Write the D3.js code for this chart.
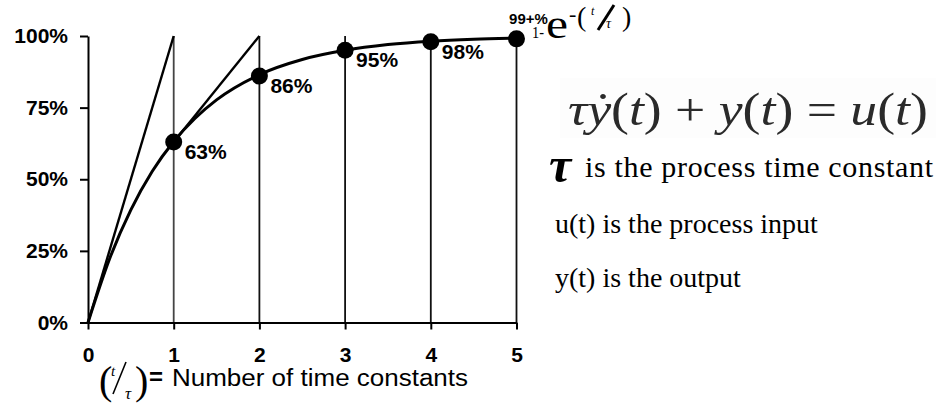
<!DOCTYPE html>
<html>
<head>
<meta charset="utf-8">
<script src="https://cdn.jsdelivr.net/npm/d3@7/dist/d3.min.js"></script>
<style>
  html, body { margin: 0; padding: 0; background: #fff; }
  svg { display: block; }
  .tick text { font-family: Arial, "Liberation Sans", sans-serif; font-weight: bold; font-size: 21px; fill: #000; }
  .serif { font-family: "Liberation Serif", "Times New Roman", serif; fill: #000; }
</style>
</head>
<body>
<svg id="chart" width="938" height="405"></svg>
<script>
// First-order step response: fraction of final value vs. number of time constants
const xTicks = [0, 1, 2, 3, 4, 5];
const yTicks = [0, 0.25, 0.5, 0.75, 1];

// response curve samples (t/τ, fraction reached)
const curveT = [0, 0.25, 0.5, 0.75, 1, 1.25, 1.5, 2, 2.5, 3, 3.5, 4, 4.5, 5];
const curveY = [0, 0.221, 0.393, 0.528, 0.632, 0.713, 0.777, 0.865, 0.918, 0.950, 0.970, 0.982, 0.989, 0.993];

// marked points at each whole time constant
const markT = [1, 2, 3, 4, 5];
const markY = [0.63, 0.86, 0.95, 0.98, 0.99];
const markLabels = ["63%", "86%", "95%", "98%", "99+%"];

// tangent lines: start point and where they reach 100%
const tangentFrom = [[0, 0], [1, 0.63]];
const tangentTo = [[1, 1], [2, 1]];

const svg = d3.select("#chart");
const x = d3.scaleLinear().domain([0, 5]).range([88, 516.5]);
const y = d3.scaleLinear().domain([0, 1]).range([322.5, 36]);

// vertical guide lines at each time constant
svg.append("g").selectAll("line").data(markT).join("line")
  .attr("x1", d => x(d)).attr("x2", d => x(d))
  .attr("y1", y(0)).attr("y2", y(1))
  .attr("stroke", (d, i) => i === 0 ? "#444" : "#111").attr("stroke-width", 1.8);

// tangents
svg.append("g").selectAll("line").data(tangentFrom).join("line")
  .attr("x1", d => x(d[0])).attr("y1", d => y(d[1]))
  .attr("x2", (d, i) => x(tangentTo[i][0])).attr("y2", (d, i) => y(tangentTo[i][1]))
  .attr("stroke", "#000").attr("stroke-width", 2.4);

// response curve
const line = d3.line().x(d => x(d[0])).y(d => y(d[1])).curve(d3.curveMonotoneX);
svg.append("path")
  .datum(curveT.map((t, i) => [t, curveY[i]]))
  .attr("d", line)
  .attr("fill", "none").attr("stroke", "#000").attr("stroke-width", 3);

// axes
const yAxis = d3.axisLeft(y).tickValues(yTicks).tickFormat(d3.format(".0%"))
  .tickSize(8).tickSizeOuter(0).tickPadding(12);
const gy = svg.append("g").attr("transform", `translate(${x(0)},0)`).call(yAxis);
gy.selectAll("line, path").attr("stroke", "#000").attr("stroke-width", 2);

const xAxis = d3.axisBottom(x).tickValues(xTicks).tickFormat(d3.format("d"))
  .tickSize(7).tickSizeOuter(0).tickPadding(18);
const gx = svg.append("g").attr("transform", `translate(0,${y(0)})`).call(xAxis);
gx.selectAll("line, path").attr("stroke", "#000").attr("stroke-width", 2);

// markers
svg.append("g").selectAll("circle").data(markT).join("circle")
  .attr("cx", d => x(d)).attr("cy", (d, i) => y(markY[i]))
  .attr("r", 8.5).attr("fill", "#000");

// point labels
svg.append("g").selectAll("text").data(markT).join("text")
  .attr("x", (d, i) => i < 4 ? x(d) + 11 : x(d) + 12)
  .attr("y", (d, i) => i < 4 ? y(markY[i]) + 17 : y(markY[i]) - 15)
  .attr("text-anchor", (d, i) => i < 4 ? "start" : "middle")
  .style("font-family", "Arial, 'Liberation Sans', sans-serif")
  .style("font-weight", "bold")
  .style("font-size", (d, i) => i < 4 ? "21px" : "15px")
  .text((d, i) => markLabels[i]);

// 1 - e^-(t/τ)
const f = svg.append("g").attr("class", "serif");
f.append("text").attr("x", 532).attr("y", 38).style("font-size", "17px")
  .attr("textLength", 12).attr("lengthAdjust", "spacingAndGlyphs").text("1-");
f.append("text").attr("x", 546).attr("y", 38).style("font-size", "40px")
  .attr("textLength", 22).attr("lengthAdjust", "spacingAndGlyphs").text("e");
f.append("text").attr("x", 569).attr("y", 21).style("font-size", "22px").text("-");
f.append("text").attr("x", 577).attr("y", 26).style("font-size", "28px").text("(");
f.append("text").attr("x", 591).attr("y", 15).style("font-size", "12px").style("font-style", "italic").text("t");
f.append("line").attr("x1", 614).attr("y1", 5).attr("x2", 598).attr("y2", 30)
  .attr("stroke", "#000").attr("stroke-width", 3);
f.append("text").attr("x", 606).attr("y", 28).style("font-size", "14px").style("font-style", "italic").text("τ");
f.append("text").attr("x", 622).attr("y", 26).style("font-size", "28px").text(")");

// differential equation
svg.append("rect").attr("x", 560).attr("y", 78).attr("width", 376).attr("height", 60).attr("fill", "#fdfdfd");
const eq = svg.append("text").attr("class", "serif").attr("x", 568).attr("y", 125)
  .style("font-size", "46px").style("fill", "#2a2a2a");
const eqParts = [["τẏ", 1], ["(", 0], ["t", 1], [")", 0], [" + ", 0], ["y", 1], ["(", 0], ["t", 1], [")", 0],
  [" = ", 0], ["u", 1], ["(", 0], ["t", 1], [")", 0]];
eqParts.forEach(p => eq.append("tspan").style("font-style", p[1] ? "italic" : "normal").text(p[0]));
const eqW = eq.node().getComputedTextLength();
eq.attr("transform", `translate(568,0) scale(${360 / eqW},1) translate(-568,0)`);

// definitions
const defs = svg.append("g").attr("class", "serif");
defs.append("text").attr("x", 549).attr("y", 182).style("font-size", "50px")
  .style("font-weight", "bold").style("font-style", "italic").text("τ");
defs.append("text").attr("x", 585).attr("y", 177).style("font-size", "30px")
  .attr("textLength", 348).attr("lengthAdjust", "spacing").text("is the process time constant");
defs.append("text").attr("x", 555).attr("y", 233).style("font-size", "28px").text("u(t) is the process input");
defs.append("text").attr("x", 555).attr("y", 287).style("font-size", "28px").text("y(t) is the output");

// x-axis title: (t/τ) = Number of time constants
const xl = svg.append("g");
xl.append("text").attr("class", "serif").attr("x", 99).attr("y", 394).style("font-size", "40px").text("(");
xl.append("text").attr("class", "serif").attr("x", 111).attr("y", 376).style("font-size", "15px").style("font-style", "italic").text("t");
xl.append("line").attr("x1", 126).attr("y1", 362).attr("x2", 113).attr("y2", 394).attr("stroke", "#000").attr("stroke-width", 1.6);
xl.append("text").attr("class", "serif").attr("x", 125).attr("y", 399).style("font-size", "17px").style("font-style", "italic").text("τ");
xl.append("text").attr("class", "serif").attr("x", 135).attr("y", 394).style("font-size", "40px").text(")");
xl.append("text").attr("x", 149).attr("y", 385)
  .style("font-family", "Arial, 'Liberation Sans', sans-serif").style("font-weight", "bold").style("font-size", "24px").text("=");
xl.append("text").attr("x", 172).attr("y", 386)
  .style("font-family", "Arial, 'Liberation Sans', sans-serif").style("font-size", "23px")
  .attr("textLength", 296).attr("lengthAdjust", "spacingAndGlyphs").text("Number of time constants");
</script>
</body>
</html>
